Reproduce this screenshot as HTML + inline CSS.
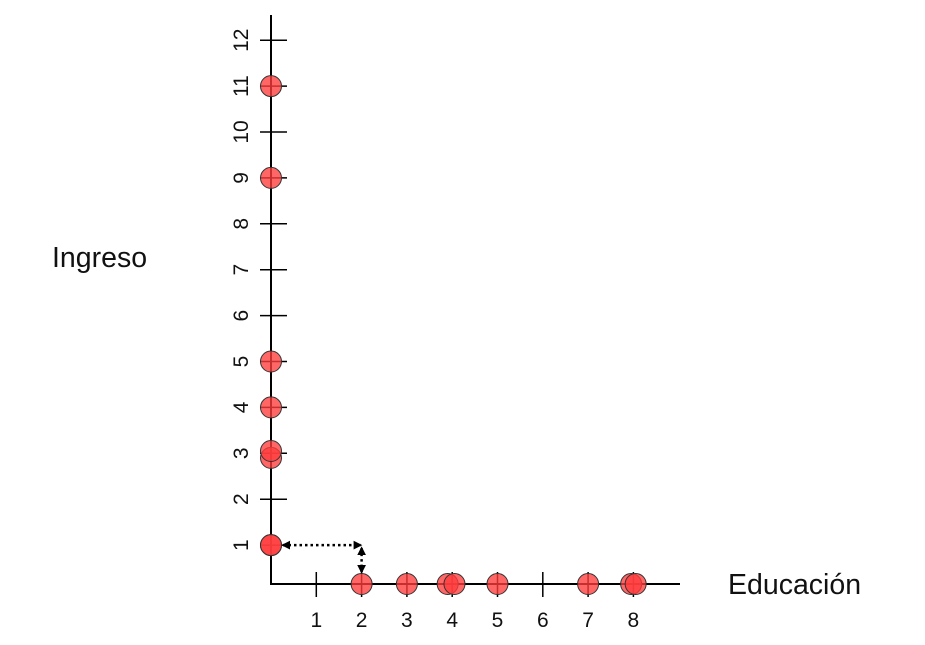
<!DOCTYPE html>
<html><head><meta charset="utf-8"><style>
body{margin:0;background:#fff;width:925px;height:640px;overflow:hidden}
svg text{font-family:"Liberation Sans",sans-serif;fill:#111}
</style></head><body>
<svg id="chart" width="925" height="640" xmlns="http://www.w3.org/2000/svg">
<defs>
<marker id="ah" viewBox="0 0 10 10" refX="8" refY="5" markerWidth="3.5" markerHeight="3.5" orient="auto-start-reverse"><path d="M0,0 L10,5 L0,10 z" fill="#000"/></marker>
</defs>
<g id="axes"></g>
<g id="marks"></g>
<text x="52" y="267" font-size="28.5">Ingreso</text>
<text x="728" y="594" font-size="28.5">Educación</text>
</svg>
<script>
const xTicks=[1,2,3,4,5,6,7,8];
const yTicks=[1,2,3,4,5,6,7,8,9,10,11,12];
const xPointsEdu=[2,3,3.9,4.05,5,7,7.95,8.05];
const yPointsIng=[1,1,2.9,3.05,4,5,9,11];
const X0=271,XS=45.3,Y0=591,YS=45.9,AXY=584;
const sx=v=>X0+v*XS, sy=v=>Y0-v*YS;
const NS="http://www.w3.org/2000/svg";
const ax=document.getElementById('axes'),mk=document.getElementById('marks');
function mkel(t,a,p){const e=document.createElementNS(NS,t);for(const k in a)e.setAttribute(k,a[k]);p.appendChild(e);return e;}
let l=mkel('line',{x1:X0,y1:15,x2:X0,y2:AXY,stroke:'#000','stroke-width':2},ax);


l=mkel('line',{x1:X0-1,y1:AXY,x2:680,y2:AXY,stroke:'#000','stroke-width':2},ax);


xTicks.forEach(v=>{
 const t=mkel('line',{x1:sx(v),y1:572,x2:sx(v),y2:597,stroke:'#000','stroke-width':1.5},ax);
 
 
 const tx=mkel('text',{x:sx(v),y:627,'font-size':21,'text-anchor':'middle'},ax);tx.textContent=v;
 
 
});
yTicks.forEach(v=>{
 const t=mkel('line',{x1:260,y1:sy(v),x2:287,y2:sy(v),stroke:'#000','stroke-width':1.5},ax);
 
 
 const tx=mkel('text',{x:0,y:0,'font-size':21,'text-anchor':'middle',transform:`translate(248,${sy(v)}) rotate(-90)`},ax);tx.textContent=v;
 
 
});
xPointsEdu.forEach(v=>{
 const c=mkel('circle',{cx:sx(v),cy:AXY,r:10.5,fill:'rgba(255,60,60,0.78)',stroke:'#333','stroke-width':1},mk);
 
 
});
yPointsIng.forEach(v=>{
 const c=mkel('circle',{cx:X0,cy:sy(v),r:10.5,fill:'rgba(255,60,60,0.78)',stroke:'#333','stroke-width':1},mk);
 
 
});
let a=mkel('line',{x1:X0+12,y1:sy(1),x2:sx(2)-1,y2:sy(1),stroke:'#000','stroke-width':2.5,'stroke-dasharray':'2.5 3','marker-start':'url(#ah)','marker-end':'url(#ah)'},mk);


a=mkel('line',{x1:sx(2),y1:sy(1)+3,x2:sx(2),y2:AXY-12,stroke:'#000','stroke-width':2.5,'stroke-dasharray':'2.5 3','marker-start':'url(#ah)','marker-end':'url(#ah)'},mk);


</script>
</body></html>
